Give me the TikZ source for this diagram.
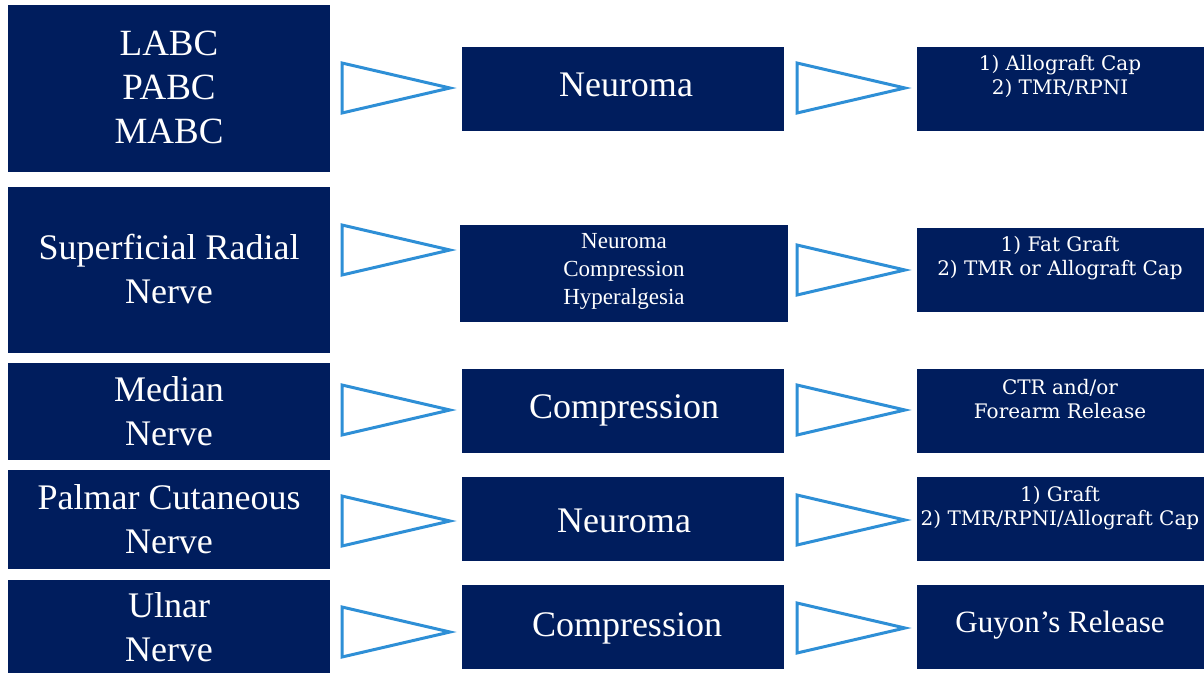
\documentclass[tikz,border=0pt]{standalone}
\usepackage{fontspec}
\setmainfont{Liberation Serif}
\newfontfamily\typefont{DejaVu Serif}
\definecolor{navy}{RGB}{0,29,93}
\definecolor{triblue}{RGB}{46,143,214}
\begin{document}
\begin{tikzpicture}[x=1pt,y=-1pt,
  box/.style={fill=navy,draw=none},
  tri/.style={draw=triblue,line width=3pt,fill=white,line join=miter},
  big/.style={text=white,align=center,font=\fontsize{36}{44}\selectfont},
  mid/.style={text=white,align=center,font=\fontsize{23}{28}\selectfont},
  rt/.style={text=white,align=center,font=\typefont\fontsize{20}{24}\selectfont}]
\useasboundingbox (0,0) rectangle (1204,673);
% left boxes
\fill[box] (8,5) rectangle (330,172);
\fill[box] (8,187) rectangle (330,353);
\fill[box] (8,363) rectangle (330,460);
\fill[box] (8,470) rectangle (330,569);
\fill[box] (8,580) rectangle (330,673);
% middle boxes
\fill[box] (462,47) rectangle (784,131);
\fill[box] (460,225) rectangle (788,322);
\fill[box] (462,369) rectangle (784,453);
\fill[box] (462,477) rectangle (784,561);
\fill[box] (462,585) rectangle (784,669);
% right boxes
\fill[box] (917,47) rectangle (1204,131);
\fill[box] (917,228) rectangle (1204,312);
\fill[box] (917,369) rectangle (1204,453);
\fill[box] (917,477) rectangle (1204,561);
\fill[box] (917,585) rectangle (1204,669);
% triangles
\foreach \y in {88,250,410,521,632}{
  \draw[tri] (342,\y-25) -- (450,\y) -- (342,\y+25) -- cycle;}
\foreach \y in {88,270,410,520,628}{
  \draw[tri] (797,\y-25) -- (905,\y) -- (797,\y+25) -- cycle;}
% left texts
\node[big,font=\fontsize{37}{44}\selectfont] (l1) at (169,87) {LABC\\PABC\\MABC};
\node[big] (l2) at (169,269) {Superficial Radial\\Nerve};
\node[big] (l3) at (169,411) {Median\\Nerve};
\node[big] (l4) at (169,519) {Palmar Cutaneous\\Nerve};
\node[big] (l5) at (169,627) {Ulnar\\Nerve};
% middle texts
\node[big] (m1) at (626,85) {Neuroma};
\node[mid] (m2) at (624,271) {Neuroma\\Compression\\Hyperalgesia};
\node[big] (m3) at (624,410) {Compression};
\node[big] (m4) at (624,521) {Neuroma};
\node[big] (m5) at (627,628) {Compression};
% right texts
\node[rt] (r1) at (1060,76) {1) Allograft Cap\\2) TMR/RPNI};
\node[rt] (r2) at (1060,258) {1) Fat Graft\\2) TMR or Allograft Cap};
\node[rt] (r3) at (1060,399) {CTR and/or\\Forearm Release};
\node[rt] (r4) at (1060,508) {1) Graft\\2) TMR/RPNI/Allograft Cap};
\node[rt,font=\fontsize{31}{34}\selectfont] (r5) at (1060,625) {Guyon’s Release};
\end{tikzpicture}
\end{document}
